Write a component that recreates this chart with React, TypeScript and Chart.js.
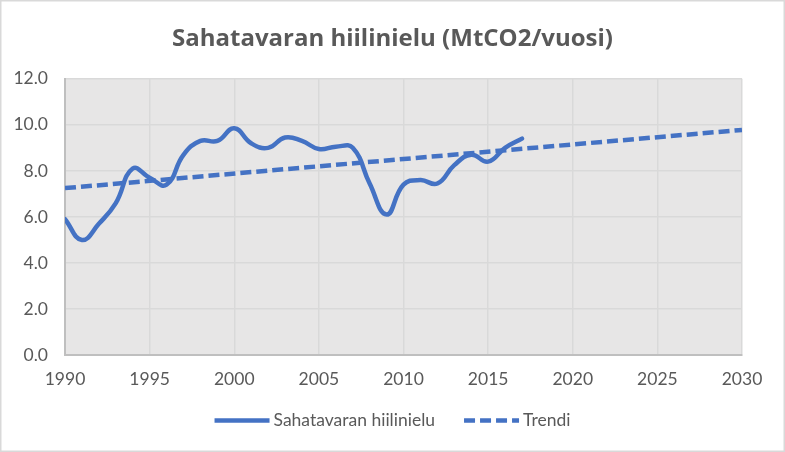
import React, { useEffect, useRef } from "react";
import { Chart, registerables } from "chart.js";

Chart.register(...registerables);

const titleText = "Sahatavaran hiilinielu (MtCO2/vuosi)";
const seriesLabel = "Sahatavaran hiilinielu";
const trendLabel = "Trendi";

const years = [
  1990, 1991, 1992, 1993, 1994, 1995, 1996, 1997, 1998, 1999,
  2000, 2001, 2002, 2003, 2004, 2005, 2006, 2007, 2008, 2009,
  2010, 2011, 2012, 2013, 2014, 2015, 2016, 2017,
];
const values = [
  5.9, 5.0, 5.7, 6.6, 8.1, 7.7, 7.4, 8.7, 9.3, 9.3,
  9.85, 9.2, 9.0, 9.45, 9.3, 8.95, 9.05, 9.0, 7.45, 6.1,
  7.4, 7.6, 7.45, 8.25, 8.7, 8.4, 9.0, 9.4,
];
const trendYears = [1990, 2030];
const trendValues = [7.25, 9.78];

const yMin = 0;
const yMax = 12;
const yStep = 2;
const xMin = 1990;
const xMax = 2030;
const xStep = 5;

const FONT = "Lato, 'Open Sans', sans-serif";
const TITLE_FONT = "'Open Sans', Lato, sans-serif";
const TEXT_COLOR = "#595959";
const LINE_COLOR = "#4472c4";
const TREND_DASH = [11, 5];

export default function App() {
  const ref = useRef<HTMLCanvasElement | null>(null);

  useEffect(() => {
    document.body.style.margin = "0";
    const canvas = ref.current;
    if (!canvas) return;

    const decorPlugin = {
      id: "decor",
      beforeDraw(chart: any) {
        const { ctx, chartArea } = chart;
        ctx.save();
        ctx.fillStyle = "#ffffff";
        ctx.fillRect(0, 0, chart.width, chart.height);
        ctx.fillStyle = "#e7e6e6";
        ctx.fillRect(
          chartArea.left,
          chartArea.top,
          chartArea.right - chartArea.left,
          chartArea.bottom - chartArea.top
        );
        ctx.restore();
      },
      afterDraw(chart: any) {
        const { ctx } = chart;
        ctx.save();
        // legend
        const font = `17.5px ${FONT}`;
        ctx.font = font;
        const sample = 55;
        const gapText = 4;
        const gapItems = 29;
        const items = chart.data.datasets.map((ds: any) => ({
          label: ds.label,
          dash: ds.borderDash || [],
          color: ds.borderColor,
          width: ds.borderWidth,
          tw: ctx.measureText(ds.label).width,
        }));
        const total =
          items.reduce((a: number, it: any) => a + sample + gapText + it.tw, 0) +
          gapItems * (items.length - 1);
        let x = chart.width / 2 - total / 2;
        const y = 420.5;
        for (const it of items) {
          ctx.beginPath();
          ctx.setLineDash(it.dash);
          ctx.lineWidth = it.width;
          ctx.strokeStyle = it.color;
          ctx.lineCap = "butt";
          ctx.moveTo(x, y);
          ctx.lineTo(x + sample, y);
          ctx.stroke();
          ctx.setLineDash([]);
          ctx.fillStyle = TEXT_COLOR;
          ctx.textBaseline = "middle";
          ctx.textAlign = "left";
          ctx.fillText(it.label, x + sample + gapText, y);
          x += sample + gapText + it.tw + gapItems;
        }
        // outer border
        ctx.strokeStyle = "#d9d9d9";
        ctx.lineWidth = 1.5;
        ctx.strokeRect(0.75, 0.75, chart.width - 1.5, chart.height - 1.5);
        ctx.restore();
      },
    };

    const chart = new Chart(canvas, {
      type: "line",
      data: {
        datasets: [
          {
            label: seriesLabel,
            data: years.map((x, i) => ({ x, y: values[i] })),
            borderColor: LINE_COLOR,
            backgroundColor: LINE_COLOR,
            borderWidth: 4.5,
            pointRadius: 0,
            tension: 0.45,
            borderCapStyle: "round",
            borderJoinStyle: "round",
            fill: false,
          },
          {
            label: trendLabel,
            data: trendYears.map((x, i) => ({ x, y: trendValues[i] })),
            borderColor: LINE_COLOR,
            backgroundColor: LINE_COLOR,
            borderWidth: 4.5,
            borderDash: TREND_DASH,
            pointRadius: 0,
            tension: 0,
            fill: false,
          },
        ],
      },
      options: {
        animation: false,
        responsive: false,
        maintainAspectRatio: false,
        layout: { padding: { left: 0, right: 0, top: 0, bottom: 52 } },
        plugins: {
          title: {
            display: true,
            text: titleText,
            color: TEXT_COLOR,
            font: { family: TITLE_FONT, size: 24, weight: "bold", lineHeight: 1.2 },
            padding: { top: 25, bottom: 25 },
          },
          legend: { display: false },
          tooltip: { enabled: false },
        },
        scales: {
          x: {
            type: "linear",
            min: xMin,
            max: xMax,
            ticks: {
              stepSize: xStep,
              color: TEXT_COLOR,
              font: { family: FONT, size: 17.5 },
              padding: 14,
              callback: (v: any) => String(v),
            },
            grid: { color: "#d9d9d9", lineWidth: 1.5, drawTicks: false },
            border: { color: "#bfbfbf", width: 2 },
            afterFit: (s: any) => {
              s.height = 45;
            },
          },
          y: {
            min: yMin,
            max: yMax,
            ticks: {
              stepSize: yStep,
              color: TEXT_COLOR,
              font: { family: FONT, size: 17.5 },
              padding: 17,
              callback: (v: any) => Number(v).toFixed(1),
            },
            grid: { color: "#d9d9d9", lineWidth: 1.5, drawTicks: false },
            border: { color: "#bfbfbf", width: 2 },
            afterFit: (s: any) => {
              s.width = 65;
            },
          },
          y2: {
            position: "right",
            display: true,
            min: yMin,
            max: yMax,
            ticks: { display: false },
            grid: { drawOnChartArea: false, drawTicks: false },
            border: { display: false },
            afterFit: (s: any) => {
              s.width = 43;
            },
          },
        },
      },
      plugins: [decorPlugin],
    } as any);

    return () => chart.destroy();
  }, []);

  return (
    <div style={{ width: 785, height: 452 }}>
      <canvas ref={ref} width={785} height={452} style={{ display: "block" }} />
    </div>
  );
}
